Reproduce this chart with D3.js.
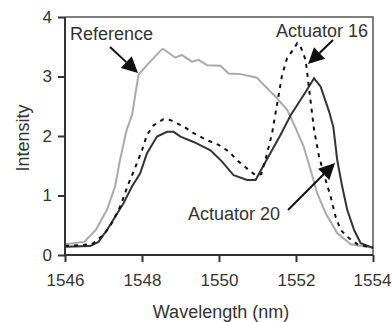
<!DOCTYPE html>
<html><head><meta charset="utf-8">
<script src="https://cdn.jsdelivr.net/npm/d3@7"></script>
<style>body{margin:0;background:#fff}svg{display:block;font-family:"Liberation Sans",Arial,sans-serif}</style>
</head><body><svg id="c" width="392" height="322"></svg>
<script>
const xTicks = [1546, 1548, 1550, 1552, 1554];
const yTicks = [0, 1, 2, 3, 4];

const refWl = [1546, 1546.5, 1546.8, 1547.09, 1547.3, 1547.43, 1547.6, 1547.74, 1547.91, 1548.14, 1548.52, 1548.56, 1548.86, 1549.04, 1549.3, 1549.47, 1549.69, 1550.04, 1550.25, 1550.56, 1550.99, 1551.16, 1551.47, 1551.77, 1552.0, 1552.2, 1552.38, 1552.55, 1552.77, 1553.07, 1553.42, 1554];
const refI  = [0.18, 0.22, 0.42, 0.76, 1.15, 1.6, 2.1, 2.35, 3.03, 3.2, 3.46, 3.46, 3.32, 3.36, 3.25, 3.28, 3.19, 3.18, 3.05, 3.04, 2.98, 2.86, 2.66, 2.44, 2.12, 1.82, 1.43, 1.04, 0.7, 0.37, 0.18, 0.12];

const a20Wl = [1546, 1546.65, 1546.87, 1547.09, 1547.3, 1547.52, 1547.74, 1547.95, 1548.13, 1548.39, 1548.65, 1548.82, 1549.0, 1549.34, 1549.78, 1550.08, 1550.38, 1550.73, 1550.95, 1551.16, 1551.6, 1551.86, 1552.2, 1552.47, 1552.64, 1552.86, 1552.97, 1553.07, 1553.2, 1553.33, 1553.51, 1553.68, 1554];
const a20I  = [0.14, 0.15, 0.22, 0.42, 0.64, 0.87, 1.15, 1.37, 1.71, 1.99, 2.07, 2.07, 1.99, 1.9, 1.76, 1.57, 1.34, 1.26, 1.26, 1.51, 2.02, 2.35, 2.69, 2.97, 2.83, 2.41, 2.15, 1.6, 1.15, 0.76, 0.42, 0.2, 0.12];

const a16Wl = [1546, 1546.7, 1547.0, 1547.17, 1547.43, 1547.65, 1547.78, 1548.0, 1548.13, 1548.3, 1548.55, 1548.73, 1549.08, 1549.34, 1549.69, 1549.99, 1550.25, 1550.51, 1550.77, 1550.95, 1551.1, 1551.25, 1551.38, 1551.55, 1551.64, 1551.77, 1551.95, 1552.03, 1552.12, 1552.25, 1552.38, 1552.47, 1552.6, 1552.77, 1552.9, 1553.03, 1553.16, 1553.38, 1553.6, 1554];
const a16I  = [0.15, 0.18, 0.34, 0.48, 0.81, 1.2, 1.4, 1.76, 2.02, 2.18, 2.28, 2.27, 2.16, 2.05, 1.93, 1.85, 1.74, 1.57, 1.43, 1.34, 1.36, 1.71, 2.05, 2.69, 3.03, 3.31, 3.47, 3.56, 3.5, 3.28, 2.58, 2.1, 1.65, 1.26, 0.98, 0.64, 0.42, 0.28, 0.18, 0.12];

const svg = d3.select("#c");
const L = 65, R = 373, T = 17, B = 255;
const x = d3.scaleLinear().domain([1546, 1554]).range([L, R]);
const y = d3.scaleLinear().domain([0, 4]).range([B, T]);
const ink = "#333";

// frame top/right
svg.append("path").attr("d", `M${L},${T}H${R}V${B}`).attr("fill","none").attr("stroke","#555").attr("stroke-width",1.5);

const line = d3.line().x(d => x(d[0])).y(d => y(d[1]));
const zip = (a, b) => a.map((v, i) => [v, b[i]]);

svg.append("path").datum(zip(refWl, refI)).attr("d", line).attr("fill","none").attr("stroke","#aaa").attr("stroke-width",2);
svg.append("path").datum(zip(a20Wl, a20I)).attr("d", line).attr("fill","none").attr("stroke","#333").attr("stroke-width",2);
svg.append("path").datum(zip(a16Wl, a16I)).attr("d", line).attr("fill","none").attr("stroke","#111").attr("stroke-width",2).attr("stroke-dasharray","4,5");

// axes
const gx = svg.append("g").attr("transform", `translate(0,${B})`)
  .call(d3.axisBottom(x).tickValues(xTicks).tickSize(7).tickPadding(12).tickFormat(d3.format("d")));
const gy = svg.append("g").attr("transform", `translate(${L},0)`)
  .call(d3.axisLeft(y).tickValues(yTicks).tickSize(7).tickPadding(6).tickFormat(d3.format("d")));
[gx, gy].forEach(g => {
  g.select(".domain").attr("stroke", ink).attr("stroke-width", 2);
  g.selectAll(".tick line").attr("stroke", ink).attr("stroke-width", 2);
  g.selectAll(".tick text").attr("fill", ink).attr("font-size", 17).attr("font-family", "Liberation Sans, Arial, sans-serif");
});
gx.select(".domain").attr("d", `M${L},0H${R}`);
gy.select(".domain").attr("d", `M0,${B}V${T}`);
gx.selectAll(".tick text").filter(d => d === 1554).attr("dx", -1);

svg.append("text").attr("x", 221).attr("y", 318).attr("text-anchor","middle").attr("font-size",18).attr("fill",ink).text("Wavelength (nm)");
svg.append("text").attr("transform","translate(29,138) rotate(-90)").attr("text-anchor","middle").attr("font-size",18).attr("fill",ink).text("Intensity");

// annotations
function arrow(x1, y1, x2, y2) {
  const ang = Math.atan2(y2 - y1, x2 - x1), hl = 16, hw = 8;
  const bx = x2 - hl * Math.cos(ang), by = y2 - hl * Math.sin(ang);
  svg.append("line").attr("x1", x1).attr("y1", y1).attr("x2", bx).attr("y2", by).attr("stroke","#111").attr("stroke-width",2);
  const px = -Math.sin(ang) * hw, py = Math.cos(ang) * hw;
  svg.append("path").attr("d", `M${x2},${y2}L${bx+px},${by+py}L${bx-px},${by-py}Z`).attr("fill","#111");
}
svg.append("text").attr("x", 70).attr("y", 40).attr("font-size",18).attr("fill",ink).text("Reference");
arrow(110, 47, 138, 73);
svg.append("text").attr("x", 368).attr("y", 37).attr("text-anchor","end").attr("font-size",18).attr("fill",ink).text("Actuator 16");
arrow(333, 40, 308, 64);
svg.append("text").attr("x", 280).attr("y", 220).attr("text-anchor","end").attr("font-size",18).attr("fill",ink).text("Actuator 20");
arrow(288, 210, 335, 163);
</script></body></html>
